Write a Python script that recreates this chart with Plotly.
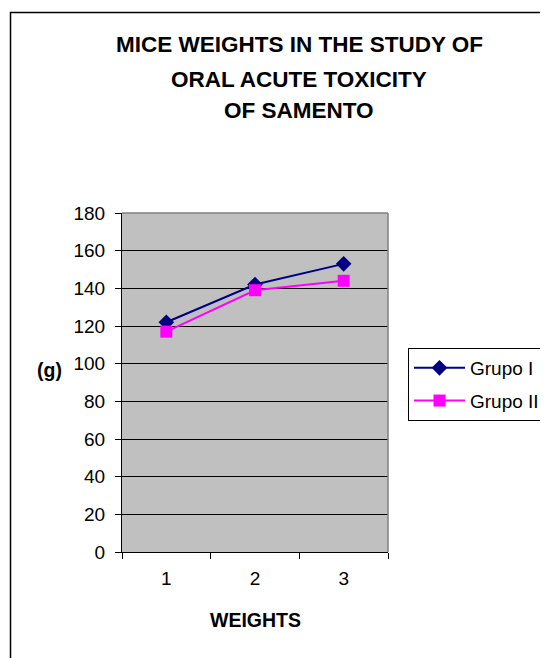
import plotly.graph_objects as go

categories = ["1", "2", "3"]
grupo_i = [122, 142, 153]
grupo_ii = [117, 139, 144]
y_ticks = [0, 20, 40, 60, 80, 100, 120, 140, 160, 180]

W, H = 548, 658
OFF = 8  # page body margin offset
# plot area in reference pixel coordinates
PL, PR, PT, PB = 122, 388, 213, 552
L = PL - OFF
T = PT - OFF
R = W - (PR - OFF)
B = H - (PB - OFF)
pw, ph = PR - PL, PB - PT

def px(x):
    return (x - PL) / pw

def py(y):
    return (PB - y) / ph

FONT = "Liberation Sans, Arial, sans-serif"

fig = go.Figure()
fig.add_trace(go.Scatter(
    x=categories, y=grupo_i, name="Grupo I", mode="lines+markers",
    legendgroup="a",
    line=dict(color="#000080", width=2),
    marker=dict(symbol="diamond", size=12, color="#000080"),
))
fig.add_trace(go.Scatter(
    x=categories, y=grupo_ii, name="Grupo II", mode="lines+markers",
    legendgroup="b",
    line=dict(color="#FF00FF", width=2),
    marker=dict(symbol="square", size=12, color="#FF00FF"),
))

fig.update_layout(
    width=W, height=H,
    margin=dict(l=L, r=R, t=T, b=B, autoexpand=False),
    paper_bgcolor="white", plot_bgcolor="#C0C0C0",
    font=dict(family=FONT, size=19, color="black"),
    showlegend=True,
    legend=dict(
        x=px(408), y=py(348), xanchor="left", yanchor="top",
        bordercolor="black", borderwidth=1, bgcolor="white",
        font=dict(size=19), itemwidth=51, tracegroupgap=5,
    ),
    xaxis=dict(
        type="category", range=[-0.5, 2.5], tickson="boundaries",
        ticks="outside", ticklen=6, tickcolor="black",
        showline=True, linecolor="black", linewidth=1,
        showgrid=False, zeroline=False, mirror=False,
        tickfont=dict(size=19), ticklabelstandoff=9,
    ),
    yaxis=dict(
        range=[0, 180], tickvals=y_ticks, ticks="outside", ticklen=6,
        tickcolor="black", showline=True, linecolor="black", linewidth=1,
        showgrid=True, gridcolor="black", gridwidth=1, zeroline=False,
        tickfont=dict(size=19), ticklabelstandoff=6,
    ),
)

# gray frame on top/right of plot area
fig.add_shape(type="line", xref="paper", yref="paper", x0=0, x1=1, y0=1, y1=1,
              line=dict(color="#808080", width=1.5))
fig.add_shape(type="line", xref="paper", yref="paper", x0=1, x1=1, y0=0, y1=1,
              line=dict(color="#808080", width=1.5))

# outer chart frame
fig.add_shape(type="rect", xref="paper", yref="paper",
              x0=px(10.5), x1=px(620), y0=py(720), y1=py(12.5),
              line=dict(color="black", width=1.5), layer="below")

title_lines = ["MICE WEIGHTS IN THE STUDY OF", "ORAL ACUTE TOXICITY", "OF SAMENTO"]
title_y = [45, 80, 110]
for t, ty in zip(title_lines, title_y):
    fig.add_annotation(text="<b>%s</b>" % t, xref="paper", yref="paper",
                       x=px(299), y=py(ty), showarrow=False,
                       xanchor="center", yanchor="middle",
                       font=dict(size=22.5, family=FONT))

fig.add_annotation(text="<b>WEIGHTS</b>", xref="paper", yref="paper",
                   x=px(255), y=py(620), showarrow=False,
                   xanchor="center", yanchor="middle", font=dict(size=19.5))
fig.add_annotation(text="<b>(g)</b>", xref="paper", yref="paper",
                   x=px(49), y=py(370), showarrow=False,
                   xanchor="center", yanchor="middle", font=dict(size=19.5))

fig.write_html("out.html")
